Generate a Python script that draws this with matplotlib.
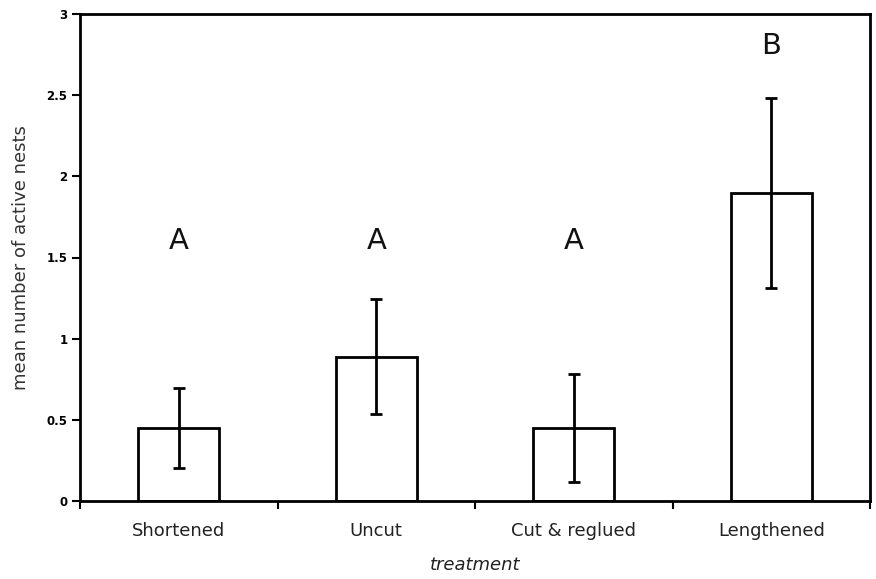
import matplotlib.pyplot as plt
import numpy as np

treatments = ['Shortened', 'Uncut', 'Cut & reglued', 'Lengthened']
means = [0.45, 0.89, 0.45, 1.90]
errors = [0.245, 0.355, 0.335, 0.585]
groups = ['A', 'A', 'A', 'B']
group_y = [1.60, 1.60, 1.60, 2.80]

fig = plt.figure(figsize=(8.76, 5.79), dpi=100)
ax = fig.add_axes([80/876, 78/579, 790/876, 487/579])

x = np.arange(len(treatments))
ax.bar(x, means, width=0.41, color='white', edgecolor='black', linewidth=2, zorder=2)
ax.errorbar(x, means, yerr=errors, fmt='none', ecolor='black', elinewidth=2,
            capsize=4, capthick=2, zorder=3)
for xi, g, gy in zip(x, groups, group_y):
    ax.text(xi, gy, g, ha='center', va='center', fontsize=21, color='#111111')

ax.set_xlim(-0.5, len(treatments) - 0.5)
ax.set_ylim(0, 3)
ax.set_xticks(x)
ax.set_xticklabels(treatments, fontsize=13, color='#222222')
ax.set_xticks(np.arange(-0.5, len(treatments)), minor=True)
ax.tick_params(axis='x', which='major', length=0, pad=15)
ax.tick_params(axis='x', which='minor', length=6, width=1.5, direction='out')
ax.set_yticks([0, 0.5, 1, 1.5, 2, 2.5, 3])
ax.set_yticklabels(['0', '0.5', '1', '1.5', '2', '2.5', '3'], fontsize=8.5, fontweight='heavy')
ax.tick_params(axis='y', length=6, width=1.5, direction='out', pad=3)
for s in ax.spines.values():
    s.set_linewidth(2)

ax.set_ylabel('mean number of active nests', fontsize=13, color='#333333', labelpad=12)
ax.set_xlabel('treatment', fontsize=13, style='italic', color='#222222', labelpad=12)

fig.savefig('out.png', dpi=100)
